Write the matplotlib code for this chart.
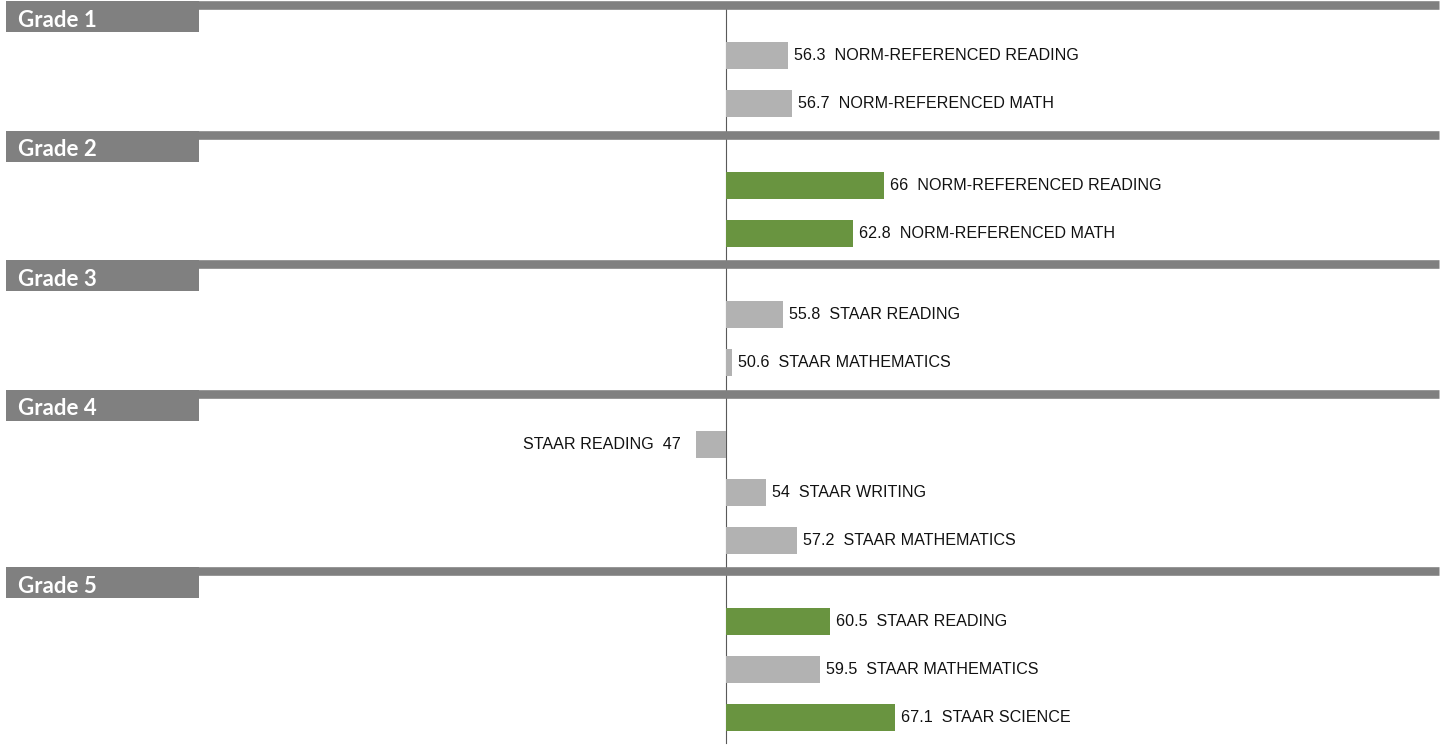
import matplotlib.pyplot as plt
from matplotlib.patches import Rectangle
import matplotlib.transforms as mtransforms

# ==== data ====
grades = ["Grade 1", "Grade 2", "Grade 3", "Grade 4", "Grade 5"]
tests = [
    ["NORM-REFERENCED READING", "NORM-REFERENCED MATH"],
    ["NORM-REFERENCED READING", "NORM-REFERENCED MATH"],
    ["STAAR READING", "STAAR MATHEMATICS"],
    ["STAAR READING", "STAAR WRITING", "STAAR MATHEMATICS"],
    ["STAAR READING", "STAAR MATHEMATICS", "STAAR SCIENCE"],
]
scores = [
    [56.3, 56.7],
    [66, 62.8],
    [55.8, 50.6],
    [47, 54, 57.2],
    [60.5, 59.5, 67.1],
]
highlight = [
    [False, False],
    [True, True],
    [False, False],
    [False, False, False],
    [True, False, True],
]
baseline = 50

GREEN = "#699440"
GRAY_BAR = "#B2B2B2"
SEP = "#808080"

W, H = 1444, 748
px_per_unit_x = 9.9
row_px = 48.0

fig = plt.figure(figsize=(W / 100, H / 100), dpi=100)
ax = fig.add_axes([0, 0, 1, 1])
ax.set_xlim(baseline - 726 / px_per_unit_x, baseline + (W - 726) / px_per_unit_x)
ax.set_ylim(H / row_px, 0)
ax.axis("off")

blend = mtransforms.blended_transform_factory(ax.transAxes, ax.transData)

y = 5 / row_px  # first separator
seps = []
for g, name in enumerate(grades):
    seps.append(y)
    # header box
    ax.add_patch(Rectangle((6 / W, y - 4 / row_px), 193 / W, 31 / row_px,
                           transform=blend, color=SEP, lw=0, zorder=3))
    ax.text(18 / W, y + 21.5 / row_px, name, transform=blend, color="white",
            fontsize=16, fontweight="bold", family="Lato", va="baseline",
            zorder=4)
    ys = [y + 1.05 + i for i in range(len(scores[g]))]
    vals = scores[g]
    cols = [GREEN if h else GRAY_BAR for h in highlight[g]]
    ax.barh(ys, [v - baseline for v in vals], left=baseline, height=27 / row_px,
            color=cols, zorder=2)
    for yy, v, t in zip(ys, vals, tests[g]):
        if v >= baseline:
            ax.annotate(f"{v:g}  {t}", (v, yy), xytext=(6, 0),
                        textcoords="offset pixels", ha="left", va="center",
                        fontsize=11.6, family="Liberation Sans", color="#111111")
        else:
            ax.annotate(f"{t}  {v:g}", (v, yy), xytext=(-15, 0),
                        textcoords="offset pixels", ha="right", va="center",
                        fontsize=11.6, family="Liberation Sans", color="#111111")
    y = ys[-1] + 0.65
seps.append(y)

for s in seps:
    ax.axhline(s, xmin=6 / W, xmax=1439 / W, color=SEP, lw=6.2,
               solid_capstyle="butt", zorder=3)

ax.plot([baseline, baseline], [seps[0], seps[-1] - 6 / row_px],
        color="#595959", lw=0.8, zorder=1)

fig.savefig("out.png", dpi=100)
